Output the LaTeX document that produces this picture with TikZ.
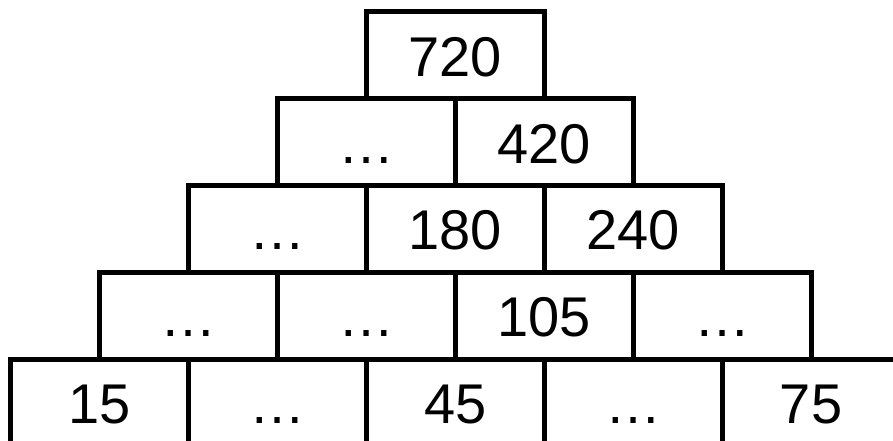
\documentclass[tikz,border=0pt]{standalone}
\usepackage{fontspec}
\setmainfont{Liberation Sans}
\begin{document}
\begin{tikzpicture}[x=1pt,y=-1pt,
  cell/.style={draw=black, line width=5pt, rectangle, inner sep=0pt, outer sep=0pt,
    minimum width=177.8pt, minimum height=86.75pt, text height=42pt, text depth=0pt,
    font=\fontsize{56}{60}\selectfont, anchor=north west}]
\useasboundingbox (0,0) rectangle (893,441);
\clip (0,0) rectangle (893,441);
% row 1
\node[cell] (a1) at (366.5,12) {720};
% row 2
\node[cell] (b1) at (277.6,98.75) {…};
\node[cell] (b2) at (455.4,98.75) {420};
% row 3
\node[cell] (c1) at (188.7,185.5) {…};
\node[cell] (c2) at (366.5,185.5) {180};
\node[cell] (c3) at (544.3,185.5) {240};
% row 4
\node[cell] (d1) at (99.8,272.25) {…};
\node[cell] (d2) at (277.6,272.25) {…};
\node[cell] (d3) at (455.4,272.25) {105};
\node[cell] (d4) at (633.2,272.25) {…};
% row 5
\node[cell] (e1) at (10.9,359) {15};
\node[cell] (e2) at (188.7,359) {…};
\node[cell] (e3) at (366.5,359) {45};
\node[cell] (e4) at (544.3,359) {…};
\node[cell] (e5) at (722.1,359) {75};
\end{tikzpicture}
\end{document}
